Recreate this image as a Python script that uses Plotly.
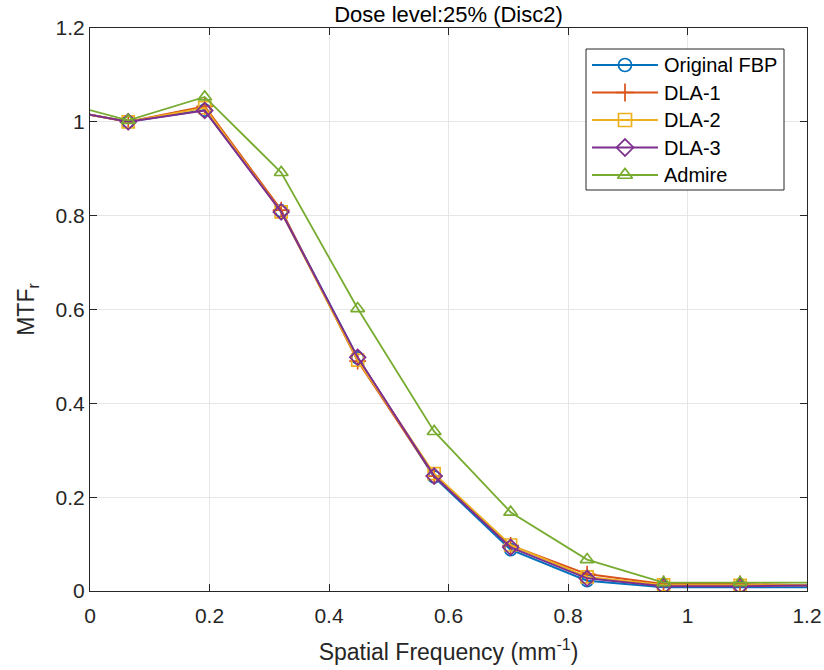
import plotly.graph_objects as go

# Spatial frequency bins (mm^-1); end points extend just past the axis limits
freq = [-0.064, 0.064, 0.192, 0.32, 0.448, 0.576, 0.704, 0.832, 0.96, 1.088, 1.216]

mtf_fbp = [1.030, 1.000, 1.025, 0.810, 0.497, 0.243, 0.088, 0.022, 0.008, 0.008, 0.008]
mtf_dla1 = [1.030, 1.000, 1.033, 0.812, 0.490, 0.245, 0.097, 0.036, 0.015, 0.015, 0.012]
mtf_dla2 = [1.030, 1.000, 1.030, 0.808, 0.492, 0.250, 0.098, 0.030, 0.013, 0.012, 0.012]
mtf_dla3 = [1.030, 1.000, 1.024, 0.808, 0.498, 0.245, 0.093, 0.027, 0.010, 0.010, 0.012]
mtf_admire = [1.047, 1.003, 1.053, 0.892, 0.602, 0.340, 0.168, 0.067, 0.018, 0.018, 0.018]

series_names = ["Original FBP", "DLA-1", "DLA-2", "DLA-3", "Admire"]
series_values = [mtf_fbp, mtf_dla1, mtf_dla2, mtf_dla3, mtf_admire]
series_colors = ["#0072BD", "#D95319", "#EDB120", "#7E2F8E", "#77AC30"]
series_symbols = ["circle-open", "cross-thin-open", "square-open",
                  "diamond-open", "triangle-up-open"]
series_widths = [2.0, 2.0, 2.0, 2.0, 1.8]

x_ticks = [0, 0.2, 0.4, 0.6, 0.8, 1.0, 1.2]
x_tick_text = ["0", "0.2", "0.4", "0.6", "0.8", "1", "1.2"]
y_ticks = [0, 0.2, 0.4, 0.6, 0.8, 1.0, 1.2]
y_tick_text = ["0", "0.2", "0.4", "0.6", "0.8", "1", "1.2"]

FONT = "Liberation Sans, Arial, sans-serif"
AXIS_COLOR = "#262626"
W, H = 824, 670
ML, MR, MT, MB = 90, 17, 28, 79
X_RANGE = [0, 1.2]
Y_RANGE = [0, 1.2]


def px_to_x(px):
    """Horizontal pixel position -> x data value."""
    return X_RANGE[0] + (px - ML) / (W - ML - MR) * (X_RANGE[1] - X_RANGE[0])


def px_to_y(py):
    """Vertical pixel position -> y data value."""
    return Y_RANGE[0] + (H - MB - py) / (H - MB - MT) * (Y_RANGE[1] - Y_RANGE[0])


fig = go.Figure()
for name, vals, color, symbol, lw in zip(series_names, series_values, series_colors,
                                         series_symbols, series_widths):
    fig.add_trace(go.Scatter(
        x=freq, y=vals, name=name, mode="lines+markers",
        line=dict(color=color, width=lw),
        marker=dict(symbol=symbol, size=12, color=color,
                    line=dict(color=color, width=1.7)),
        cliponaxis=True, showlegend=False,
    ))

# Legend box with long sample lines, laid out in pixel units
leg_left, leg_right, leg_top, leg_bottom = 586, 784, 49, 190
leg_row0, leg_step = 65, 27.5
line_x0, line_x1, text_x = 592, 658, 662

fig.add_shape(type="rect", xref="x", yref="y",
              x0=px_to_x(leg_left), x1=px_to_x(leg_right),
              y0=px_to_y(leg_bottom), y1=px_to_y(leg_top),
              fillcolor="white", line=dict(color=AXIS_COLOR, width=1),
              layer="between")

for i, (name, color, symbol, lw) in enumerate(zip(series_names, series_colors,
                                                  series_symbols, series_widths)):
    yy = px_to_y(leg_row0 + i * leg_step)
    fig.add_trace(go.Scatter(
        x=[px_to_x(line_x0), px_to_x(line_x1)], y=[yy, yy],
        mode="lines", line=dict(color=color, width=lw),
        showlegend=False, hoverinfo="skip",
    ))
    fig.add_trace(go.Scatter(
        x=[px_to_x((line_x0 + line_x1) / 2)], y=[yy],
        mode="markers",
        marker=dict(symbol=symbol, size=13, color=color,
                    line=dict(color=color, width=1.7)),
        showlegend=False, hoverinfo="skip",
    ))
    fig.add_annotation(
        x=px_to_x(text_x), y=yy, xref="x", yref="y", text=name, showarrow=False,
        xanchor="left", yanchor="middle",
        font=dict(family=FONT, size=20, color="#000000"),
    )

axis_common = dict(
    automargin=False,
    showgrid=True, gridcolor="#e6e6e6", gridwidth=1,
    zeroline=False, showline=True, linecolor=AXIS_COLOR, linewidth=1,
    mirror="ticks", ticks="inside", ticklen=7, tickcolor=AXIS_COLOR,
    tickfont=dict(family=FONT, size=21, color=AXIS_COLOR),
)

fig.update_layout(
    xaxis=dict(
        range=X_RANGE, tickvals=x_ticks, ticktext=x_tick_text,
        ticklabelstandoff=6,
        title=dict(text="Spatial Frequency (mm<sup>-1</sup>)",
                   font=dict(family=FONT, size=23, color=AXIS_COLOR), standoff=17),
        **axis_common,
    ),
    yaxis=dict(
        range=Y_RANGE, tickvals=y_ticks, ticktext=y_tick_text,
        title=dict(text="MTF<sub>r</sub>",
                   font=dict(family=FONT, size=23, color=AXIS_COLOR), standoff=14),
        **axis_common,
    ),
    width=W, height=H,
    margin=dict(l=ML, r=MR, t=MT, b=MB, autoexpand=False),
    paper_bgcolor="white", plot_bgcolor="white",
    title=dict(text="Dose level:25% (Disc2)", x=0.5, xref="paper",
               y=1 - 14 / H, yref="container", yanchor="middle",
               font=dict(family=FONT, size=22, color="#000000")),
    showlegend=False,
)

fig.write_html("out.html")
